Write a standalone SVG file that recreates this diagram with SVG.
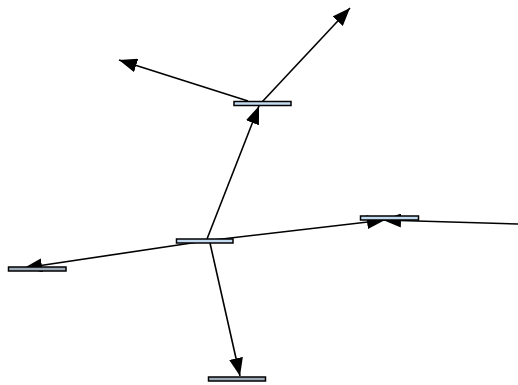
<svg xmlns="http://www.w3.org/2000/svg" width="518" height="385" viewBox="0 0 518 385">
<defs>
<marker id="arr" markerUnits="userSpaceOnUse" markerWidth="18" markerHeight="14" viewBox="0 0 18 14" refX="18" refY="7" orient="auto">
<path d="M0,0 L18,7 L0,14 z" fill="#000"/>
</marker>
<style>
.e{stroke:#000;stroke-width:1.6;fill:none;marker-end:url(#arr)}
.n{stroke:#000;stroke-width:1.5}
.lb{fill:#c4dcf0}
.gr{fill:#9eaab8}
</style>
</defs>
<g id="edges">
<path class="e" d="M207,239 L259,106"/>
<path class="e" d="M248,101 L119,60"/>
<path class="e" d="M262,102 L350,8"/>
<path class="e" d="M205,241 L385,220"/>
<path class="e" d="M518,224 L383,220"/>
<path class="e" d="M205,241 L24,268"/>
<path class="e" d="M210,243 L240,376"/>
</g>
<g id="nodeA"><rect class="n lb" x="176.5" y="239" width="56.5" height="4"/></g>
<g id="nodeB"><rect class="n lb" x="234" y="101.5" width="57" height="4"/></g>
<g id="nodeC"><rect class="n lb" x="360.5" y="216" width="58" height="4"/></g>
<g id="nodeD"><rect class="n gr" x="8.5" y="267" width="57.5" height="4"/></g>
<g id="nodeE"><rect class="n gr" x="208.5" y="377" width="57" height="4"/></g>
</svg>
